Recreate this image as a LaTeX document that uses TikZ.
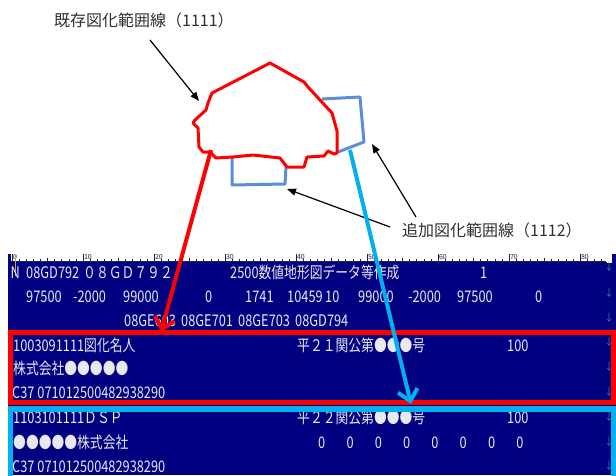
\documentclass[tikz,border=0pt]{standalone}
\usepackage{fontspec}
\setmainfont{Noto Sans CJK JP}
\newfontfamily\scrfont[FakeStretch=0.8]{Noto Sans CJK JP}
\usetikzlibrary{arrows.meta}
\definecolor{navy}{HTML}{000080}
\definecolor{polyred}{HTML}{FF0000}
\definecolor{polyblue}{HTML}{5A8FD8}
\definecolor{cyanline}{HTML}{00B0F0}
\definecolor{scrwhite}{HTML}{E8E8F0}
\definecolor{tealarrow}{HTML}{2A8C8C}
\definecolor{labelgray}{HTML}{303030}
\definecolor{rulerink}{HTML}{202050}
\tikzset{
  scrtxt/.style={anchor=base west, inner sep=0pt, text=scrwhite, font=\scrfont\fontsize{16}{16}\selectfont},
  downmark/.style={inner sep=0pt, text=tealarrow, font=\fontsize{10}{10}\selectfont},
  calltxt/.style={anchor=west, inner sep=0pt, text=labelgray, font=\fontsize{16}{16}\selectfont},
  callarrow/.style={draw=black, line width=1.2pt, -{Triangle[length=9pt,width=7pt]}},
  bigarrow/.style={line width=4pt, -{Straight Barb[length=11pt,width=20pt]}},
  rulerlbl/.style={anchor=north west, inner sep=0pt, text=rulerink, font=\fontsize{7}{7}\selectfont},
}
\begin{document}
\begin{tikzpicture}[x=1pt,y=-1pt]
\useasboundingbox (0,0) rectangle (616,475);
\clip (0,0) rectangle (616,475);

% screen
\fill[navy] (8,254) rectangle (616,475);
\fill[white] (11,254) rectangle (612,262);
\draw[rulerink, line width=0.6pt] (11,261.5) -- (606,261.5);
\foreach \c in {0,...,84}{
  \pgfmathsetmacro{\xx}{12+7.1*\c}
  \pgfmathtruncatemacro{\mt}{mod(\c,10)}
  \pgfmathtruncatemacro{\mf}{mod(\c,5)}
  \ifnum\mt=0
    \draw[rulerink, line width=0.6pt] (\xx,254) -- (\xx,261.5);
    \node[rulerlbl] (rl\c) at (\xx+0.8,253.8) {\c};
  \else\ifnum\mf=0
    \draw[rulerink, line width=0.6pt] (\xx,257.5) -- (\xx,261.5);
  \else
    \draw[rulerink, line width=0.5pt] (\xx,259.3) -- (\xx,261.5);
  \fi\fi
}
\fill[white] (607,254) rectangle (612,263);
\draw[yellow!70!black, line width=1pt] (15,254) -- (15,276);

% row 1
\node[scrtxt] (r1a) at (10.5,278) {N};
\node[scrtxt] (r1b) at (26,278) {08GD792};
\node[scrtxt] (r1c) at (83,278) {０８ＧＤ７９２};
\node[scrtxt] (r1d) at (230,278) {2500数値地形図データ等作成};
\node[scrtxt] (r1e) at (480,278) {1};
% row 2
\node[scrtxt] (r2a) at (26,302) {97500};
\node[scrtxt] (r2b) at (73,302) {-2000};
\node[scrtxt] (r2c) at (123,302) {99000};
\node[scrtxt] (r2d) at (205,302) {0};
\node[scrtxt] (r2e) at (245,302) {1741};
\node[scrtxt] (r2f) at (287,302) {10459};
\node[scrtxt] (r2g) at (325,302) {10};
\node[scrtxt] (r2h) at (358,302) {99000};
\node[scrtxt] (r2i) at (408,302) {-2000};
\node[scrtxt] (r2j) at (457,302) {97500};
\node[scrtxt] (r2k) at (535,302) {0};
% row 3
\node[scrtxt] (r3a) at (124,326) {08GE603};
\node[scrtxt] (r3b) at (181,326) {08GE701};
\node[scrtxt] (r3c) at (238,326) {08GE703};
\node[scrtxt] (r3d) at (295,326) {08GD794};
% row 4
\node[scrtxt] (r4a) at (13,351) {1003091111図化名人};
\node[scrtxt] (r4b) at (297,351) {平２１関公第●●●号};
\node[scrtxt] (r4c) at (507,351) {100};
% row 5
\node[scrtxt] (r5a) at (13,374) {株式会社●●●●●};
% row 6
\node[scrtxt] (r6a) at (12,398) {C37 071012500482938290};
% row 7
\node[scrtxt] (r7a) at (13,423) {1103101111ＤＳＰ};
\node[scrtxt] (r7b) at (297,423) {平２２関公第●●●号};
\node[scrtxt] (r7c) at (507,423) {100};
% row 8
\node[scrtxt] (r8a) at (13,448) {●●●●●株式会社};
\foreach \k in {0,...,7}{
  \node[scrtxt] (r8z\k) at (318+28.3*\k,448) {0};
}
% row 9
\node[scrtxt] (r9a) at (12,472) {C37 071012500482938290};

% down marks
\foreach \yy/\nm in {267/d1,293/d2,318/d3,342/d4,367/d5,392/d6,417/d7,442/d8,466/d9}{
  \node[downmark] (\nm) at (609,\yy) {↓};
}

% highlight boxes
\draw[polyred, line width=5pt] (10.5,332.5) rectangle (613.5,402.5);
\draw[cyanline, line width=5.5pt] (10.5,480) -- (10.5,409) -- (613.5,409) -- (613.5,480);

% blue polygons (added)
\draw[polyblue, line width=3pt, line join=round] (322,99) -- (360,97) -- (364,142) -- (338,152);
\draw[polyblue, line width=3pt, line join=round] (232,157) -- (232,185) -- (285,184) -- (286,167);
% red polygon (existing)
\draw[polyred, line width=3pt, line join=round]
  (270,63) -- (304,82) -- (308,87) -- (332,113) -- (337,131) -- (337,153) -- (334,154)
  -- (328,151) -- (324,156) -- (307,157) -- (304,167) -- (287,167) -- (280,158)
  -- (253,155) -- (233,157) -- (216,158) -- (210,152) -- (203,152) -- (199,147)
  -- (198,128) -- (193,123) -- (195,120) -- (206,110) -- (208,103) -- (212,93) -- cycle;

% callout labels
\node[calltxt] (lab1) at (54,20) {既存図化範囲線（1111）};
\node[calltxt] (lab2) at (402,230) {追加図化範囲線（1112）};
\coordinate (a1s) at (150,40);
\coordinate (a1e) at (199,101);
\coordinate (a2s) at (390,227);
\coordinate (a2e) at (287,189);
\coordinate (a3s) at (416,217);
\coordinate (a3e) at (372,144);
\draw[callarrow] (a1s) -- (a1e);
\draw[callarrow] (a2s) -- (a2e);
\draw[callarrow] (a3s) -- (a3e);

% big arrows
\coordinate (rs) at (211,150);
\coordinate (re) at (161,332);
\coordinate (cs) at (350,150);
\coordinate (ce) at (411,404);
\draw[bigarrow, polyred] (rs) -- (re);
\draw[bigarrow, cyanline] (cs) -- (ce);
\end{tikzpicture}
\end{document}
